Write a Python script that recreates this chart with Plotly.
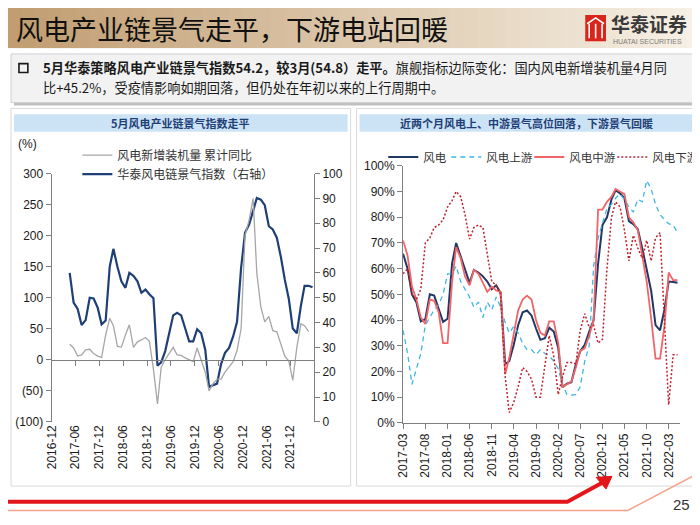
import plotly.graph_objects as go
import pandas as pd

W, H = 700, 525
OFF = 8  # the page body adds an 8px margin round the figure


def px(x):
    return (x - OFF) / W


def py(y):
    return 1 - (y - OFF) / H


# ---- left chart: monthly, 2017-04 .. 2022-05
left_start = "2017-04"
wind_yoy = [25, 19, 6, 8, 16, 17, 10, 6, 4, 40,
            67, 55, 21.5, 20.5, 40, 56.5, 20, 29, 32, 36,
            30, -15, -71, -12.5, 0.5, 10, 20, 8, 7, 3,
            0, -3, 19, 0.5, -20, -50, -38.5, -31, -31, -20,
            -12, -3, 15, 50, 200, 225, 260, 140, 85, 61,
            70, 47, 45, 26, 6, -2, -33, 20, 58, 55,
            45.2]
wind_index = [60, 48, 45.5, 39, 41, 50, 49.7, 46, 39.3, 40.8,
              62.5, 69.7, 62.5, 56.6, 54, 60, 58.8, 56.6, 52, 53.3,
              51.4, 49.8, 22.6, 24, 28.5, 36.3, 42.9, 43.9, 42.9, 37.6,
              32.4, 32.4, 37.3, 35.7, 29.1, 14.1, 14.8, 15.4, 23.3, 27.8,
              29.8, 34.4, 40.3, 62, 76.2, 79.5, 85, 90.2, 89.5, 87.3,
              78.8, 77.5, 74.2, 66.4, 57.3, 49.4, 37.6, 35.7, 46.8, 54.8,
              54.8, 54.2]
left_yticks = [-100, -50, 0, 50, 100, 150, 200, 250, 300]
left_yticktext = ["(100)", "(50)", "0", "50", "100", "150", "200", "250", "300"]

# ---- right chart: monthly, 2017-03 .. 2022-05
right_start = "2017-03"
chain_all = [65.8, 60, 50, 46.8, 39.5, 40.3, 50, 49.5, 44.3, 39.3,
             40.5, 62, 70, 65, 60, 54.5, 59.5, 58.5, 57, 55,
             52, 53.5, 50.5, 22.8, 24, 30.4, 38, 43, 43.7, 41.8,
             36.7, 32.3, 32.9, 37, 35.5, 29.1, 13.9, 15.2, 15.8, 22.8,
             27.9, 30.4, 35.5, 39.9, 62, 77, 80, 87, 90.5, 89.3,
             87.4, 78.5, 77.3, 75.3, 67.8, 60.2, 51.3, 38, 36, 44.3,
             55, 54.8, 54.5]
chain_up = [36, 27, 15, 21, 27, 38, 41, 44, 46, 50,
            58, 58, 61, 55, 52, 49, 45, 47, 41, 47,
            44, 49, 45, 39, 35, 37.5, 35, 31, 28.5, 28.5,
            26.5, 28.5, 27, 26, 24, 21, 15, 11, 10.8, 11,
            14, 24, 30, 61, 72, 78, 83.5, 85, 87.4, 89,
            87, 84, 82, 87, 86, 94.3, 91, 85, 81, 79,
            77.5, 77, 74]
chain_mid = [71, 65, 53, 48, 41, 38.5, 48, 47.5, 43, 31,
             31, 55, 68.4, 64, 57, 53.5, 59.5, 58, 54.5, 51,
             53, 51.5, 51, 19, 25.3, 35.5, 43.7, 48, 49.5, 48,
             40, 35, 34, 39.5, 39.5, 31, 14, 15, 16, 21.5,
             28, 29, 34, 40, 83, 83, 86, 88, 91, 90,
             89, 80, 78, 75, 65, 55, 40.5, 25, 25, 38,
             58.5, 55.5, 55.5]
chain_down = [58, 60, 50, 48, 52, 70, 72, 76, 77, 79,
              84, 86.5, 90, 88, 81, 71.5, 76, 77, 76, 65,
              55, 53.5, 50, 18, 4, 8, 14, 21.5, 20, 17,
              10, 10, 22, 34, 26, 11, 18, 23.5, 23.5, 23,
              36, 42.5, 37, 38, 31, 32.5, 60, 80, 86, 84,
              75, 63, 73, 68, 64, 71, 63, 72, 74, 40,
              7, 26.5, 26.5]

left_dates = pd.date_range(left_start, periods=len(wind_index), freq="MS") + pd.Timedelta(days=17)
right_dates = pd.date_range(right_start, periods=len(chain_all), freq="MS")

CJK = "Noto Sans CJK SC"
NUM = "Liberation Sans, Noto Sans CJK SC"
AXIS = "#7F7F7F"

# plot areas (pixels, as in the slide)
L_X0, L_X1, L_Y0, L_Y1 = 45, 310, 171, 426
R_X0, R_X1, R_Y0, R_Y1 = 400, 680, 163, 427
left_ydom = [py(L_Y1), py(L_Y0)]
zero_pos = left_ydom[0] + (0 - left_yticks[0]) / (left_yticks[-1] - left_yticks[0]) * (left_ydom[1] - left_ydom[0])
left_range = ["2016-12-01", "2022-05-29"]

fig = go.Figure()

fig.add_trace(go.Scatter(
    x=left_dates[:len(wind_yoy)], y=wind_yoy, name="风电新增装机量 累计同比",
    mode="lines", line=dict(color="#A6A6A6", width=1.3),
    xaxis="x3", yaxis="y", legend="legend"))
fig.add_trace(go.Scatter(
    x=left_dates, y=wind_index, name="华泰风电链景气指数（右轴）",
    mode="lines", line=dict(color="#1F3F77", width=2.2),
    xaxis="x", yaxis="y2", legend="legend"))

right_series = [
    ("风电", chain_all, dict(color="#1F3864", width=2), 18),
    ("风电上游", chain_up, dict(color="#3DB7E4", width=1.3, dash="5px,4px"), 38),
    ("风电中游", chain_mid, dict(color="#F26468", width=1.8), 38),
    ("风电下游", chain_down, dict(color="#C0202B", width=1.5, dash="2px,2px"), 38),
]
for name, vals, line, lw in right_series:
    fig.add_trace(go.Scatter(
        x=right_dates, y=vals, name=name, mode="lines", line=line,
        xaxis="x2", yaxis="y3", legend="legend2", legendwidth=lw))

tickfont = dict(family=NUM, size=12, color="#1A1A1A")

fig.update_layout(
    width=W, height=H, margin=dict(l=0, r=0, t=0, b=0),
    paper_bgcolor="white", plot_bgcolor="rgba(0,0,0,0)",
    font=dict(family=CJK, size=12, color="#1A1A1A"),
    xaxis=dict(domain=[px(L_X0), px(L_X1)], anchor="y", type="date", range=left_range,
               tick0="2016-12-01", dtick="M6", tickformat="%Y-%m", tickangle=-90,
               showline=False, ticks="", showgrid=False, zeroline=False, tickfont=tickfont),
    xaxis3=dict(domain=[px(L_X0), px(L_X1)], overlaying="x", anchor="free", position=zero_pos,
                type="date", range=left_range, tick0="2016-12-01", dtick="M6",
                showline=True, linecolor=AXIS, linewidth=1, ticks="outside", ticklen=5,
                tickcolor=AXIS, showticklabels=False, showgrid=False, zeroline=False),
    yaxis=dict(domain=left_ydom, anchor="x", range=[left_yticks[0], left_yticks[-1]],
               tickvals=left_yticks, ticktext=left_yticktext, showline=True, linecolor=AXIS,
               ticks="outside", ticklen=5, tickcolor=AXIS, showgrid=False, zeroline=False,
               tickfont=tickfont),
    yaxis2=dict(overlaying="y", side="right", anchor="x", range=[0, 100], dtick=10,
                showline=True, linecolor=AXIS, ticks="outside", ticklen=5, tickcolor=AXIS,
                showgrid=False, zeroline=False, tickfont=tickfont),
    xaxis2=dict(domain=[px(R_X0), px(R_X1)], anchor="y3", type="date",
                range=["2017-03-01", "2022-05-20"], tick0="2017-03-01", dtick="M5",
                tickformat="%Y-%m", tickangle=-90, showline=True, linecolor=AXIS,
                ticks="outside", ticklen=5, tickcolor=AXIS, showgrid=False, zeroline=False,
                tickfont=tickfont),
    yaxis3=dict(domain=[py(R_Y1), py(R_Y0)], anchor="x2", range=[0, 100], dtick=10,
                ticksuffix="%", showline=True, linecolor=AXIS, ticks="outside", ticklen=5,
                tickcolor=AXIS, showgrid=False, zeroline=False, tickfont=tickfont),
    legend=dict(x=px(71), y=py(137), xanchor="left", yanchor="top",
                bgcolor="rgba(0,0,0,0)", font=dict(family=CJK, size=12, color="#333333"),
                tracegroupgap=0, itemclick=False),
    legend2=dict(x=px(380), y=py(139), xanchor="left", yanchor="top", orientation="h",
                 bgcolor="rgba(0,0,0,0)", font=dict(family=CJK, size=11.5, color="#333333"),
                 itemclick=False),
    showlegend=True,
)

shapes = []
# header gradient band
c0, c1 = (193, 157, 113), (246, 240, 229)
n = 50
for k in range(n):
    t = k / (n - 1)
    col = "rgb(%d,%d,%d)" % tuple(round(a + (b - a) * t) for a, b in zip(c0, c1))
    shapes.append(dict(type="rect", xref="paper", yref="paper", layer="below",
                       x0=px(k * W / n), x1=px((k + 1) * W / n + 1), y0=py(42), y1=py(0),
                       line=dict(width=0), fillcolor=col))
# logo icon
shapes.append(dict(type="rect", xref="paper", yref="paper", x0=px(584), x1=px(605),
                   y0=py(35), y1=py(8), fillcolor="#D9261C", line=dict(width=0)))
for xx in (588, 594.5, 601):
    shapes.append(dict(type="line", xref="paper", yref="paper", x0=px(xx), x1=px(xx),
                       y0=py(32), y1=py(17), line=dict(color="white", width=1.6)))
shapes.append(dict(type="path", xref="paper", yref="paper",
                   path="M %f %f L %f %f L %f %f" % (px(586), py(17), px(594.5), py(11), px(603), py(17)),
                   line=dict(color="white", width=1.6)))
# text box with shadow
shapes.append(dict(type="rect", xref="paper", yref="paper", x0=px(7), x1=px(697),
                   y0=py(101), y1=py(51), fillcolor="#BFBFBF", line=dict(width=0), layer="below"))
shapes.append(dict(type="rect", xref="paper", yref="paper", x0=px(4), x1=px(694),
                   y0=py(98), y1=py(48), fillcolor="#F2F2F2", line=dict(color="#D0D0D0", width=1),
                   layer="below"))
shapes.append(dict(type="rect", xref="paper", yref="paper", x0=px(12), x1=px(21),
                   y0=py(67), y1=py(58), line=dict(color="#1A1A1A", width=1.6)))
# chart panels
for x0, x1 in ((4, 347), (353, 696)):
    shapes.append(dict(type="rect", xref="paper", yref="paper", x0=px(x0), x1=px(x1),
                       y0=py(492), y1=py(104), line=dict(color="#D9D9D9", width=1), layer="below"))
    shapes.append(dict(type="rect", xref="paper", yref="paper", x0=px(x0 + 3), x1=px(x1 - 3),
                       y0=py(128), y1=py(110), fillcolor="#CCE3F6", line=dict(width=0), layer="below"))
# bottom decoration
shapes.append(dict(type="path", xref="paper", yref="paper",
                   path="M %f %f L %f %f L %f %f" % (px(0), py(517), px(627), py(517), px(700), py(478)),
                   line=dict(color="#F3A38A", width=1.5)))
shapes.append(dict(type="path", xref="paper", yref="paper",
                   path="M %f %f L %f %f L %f %f" % (px(0), py(508), px(566), py(508), px(602), py(488)),
                   line=dict(color="#E3161B", width=4)))
shapes.append(dict(type="path", xref="paper", yref="paper",
                   path="M %f %f L %f %f L %f %f Z" % (px(611), py(482), px(595), py(483), px(605), py(495)),
                   fillcolor="#E3161B", line=dict(color="#E3161B", width=1)))

annotations = [
    dict(text="风电产业链景气走平，下游电站回暖", x=px(7), y=py(22), xanchor="left", yanchor="middle",
         font=dict(family=CJK, size=27, color="#111111")),
    dict(text="<b>华泰证券</b>", x=px(608), y=py(17), xanchor="left", yanchor="middle",
         font=dict(family=CJK, size=19, color="#3A3A3A")),
    dict(text="HUATAI SECURITIES", x=px(610), y=py(35), xanchor="left", yanchor="middle",
         font=dict(family="Liberation Sans", size=7, color="#7A7A7A")),
    dict(text="<b>5月华泰策略风电产业链景气指数54.2，较3月(54.8）走平。</b>旗舰指标边际变化：国内风电新增装机量4月同",
         x=px(34), y=py(62), xanchor="left", yanchor="middle", align="left",
         font=dict(family=CJK, size=13.2, color="#1A1A1A")),
    dict(text="比+45.2%，受疫情影响如期回落，但仍处在年初以来的上行周期中。",
         x=px(34), y=py(83), xanchor="left", yanchor="middle", align="left",
         font=dict(family=CJK, size=13.2, color="#1A1A1A")),
    dict(text="<b>5月风电产业链景气指数走平</b>", x=px(175), y=py(119), xanchor="center", yanchor="middle",
         font=dict(family=CJK, size=11, color="#1F3F77")),
    dict(text="<b>近两个月风电上、中游景气高位回落，下游景气回暖</b>", x=px(525), y=py(119),
         xanchor="center", yanchor="middle", font=dict(family=CJK, size=11, color="#1F3F77")),
    dict(text="(%)", x=px(9), y=py(141), xanchor="left", yanchor="middle",
         font=dict(family=NUM, size=12, color="#1A1A1A")),
    dict(text="25", x=px(692), y=py(511), xanchor="right", yanchor="middle",
         font=dict(family=NUM, size=15, color="#333333")),
]
for a in annotations:
    a.update(xref="paper", yref="paper", showarrow=False)

fig.update_layout(shapes=shapes, annotations=annotations)
fig.write_html("out.html")
